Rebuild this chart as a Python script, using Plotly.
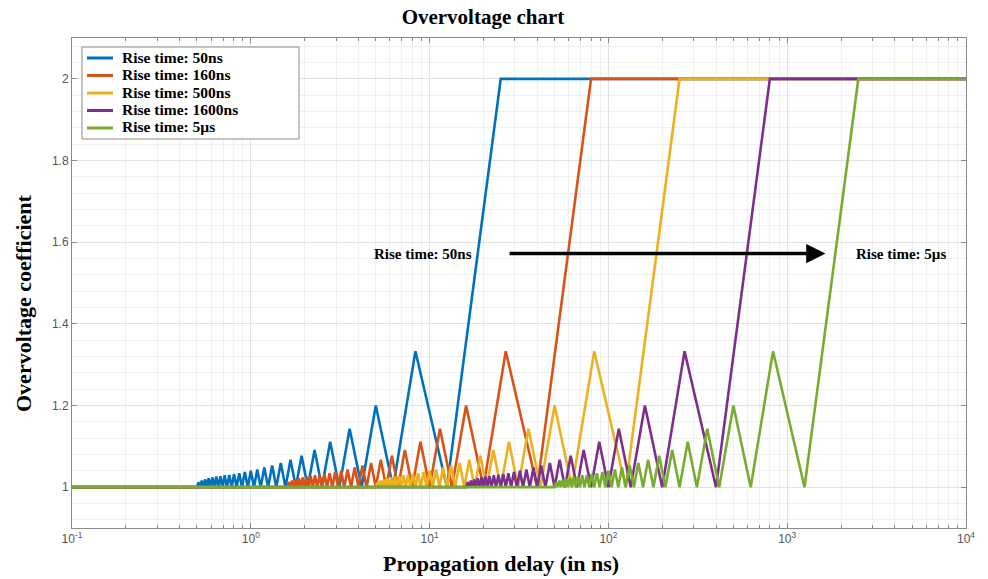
import plotly.graph_objects as go

# ---------------- data ----------------
series_names = ["Rise time: 50ns", "Rise time: 160ns", "Rise time: 500ns",
                "Rise time: 1600ns", "Rise time: 5µs"]
series_colors = ["#0072BD", "#D95319", "#EDB120", "#7E2F8E", "#77AC30"]

# shared vertex values of the saw-tooth (troughs at 1, peaks decreasing)
coef = [1.0, 1.0, 1.012, 1, 1.016, 1, 1.019, 1, 1.022, 1.0,
        1.024, 1, 1.026, 1, 1.027, 1, 1.029, 1, 1.030, 1, 1.032, 1, 1.034, 1,
        1.037, 1, 1.040, 1, 1.043, 1, 1.048, 1, 1.053, 1, 1.059, 1, 1.067, 1,
        1.077, 1, 1.091, 1, 1.111, 1, 1.143, 1, 1.2, 1, 1.333, 1, 2.0,
        2.0]

delay_50 = [0.1, 0.5, 0.510, 0.521, 0.532, 0.543, 0.556, 0.568, 0.581, 0.595,
            0.610, 0.625, 0.641, 0.658, 0.676, 0.694, 0.714, 0.735, 0.758, 0.781,
            0.806, 0.833, 0.862, 0.893, 0.926, 0.962, 1.0, 1.042, 1.087, 1.136,
            1.190, 1.25, 1.316, 1.389, 1.471, 1.563, 1.667, 1.786, 1.923, 2.083,
            2.273, 2.5, 2.778, 3.125, 3.571, 4.167, 5.0, 6.25, 8.333, 12.5, 25.0,
            10000]
delay_160 = [0.1, 1.6, 1.633, 1.667, 1.702, 1.739, 1.778, 1.818, 1.860, 1.905,
             1.951, 2.0, 2.051, 2.105, 2.162, 2.222, 2.286, 2.353, 2.424, 2.5,
             2.581, 2.667, 2.759, 2.857, 2.963, 3.077, 3.2, 3.333, 3.478, 3.636,
             3.810, 4.0, 4.211, 4.444, 4.706, 5.0, 5.333, 5.714, 6.154, 6.667,
             7.273, 8.0, 8.889, 10.0, 11.43, 13.33, 16.0, 20.0, 26.67, 40.0, 80.0,
             10000]
delay_500 = [0.1, 5.0, 5.10, 5.21, 5.32, 5.43, 5.56, 5.68, 5.81, 5.95,
             6.10, 6.25, 6.41, 6.58, 6.76, 6.94, 7.14, 7.35, 7.58, 7.81,
             8.06, 8.33, 8.62, 8.93, 9.26, 9.62, 10.0, 10.42, 10.87, 11.36,
             11.90, 12.5, 13.16, 13.89, 14.71, 15.63, 16.67, 17.86, 19.23, 20.83,
             22.73, 25.0, 27.78, 31.25, 35.71, 41.67, 50.0, 62.5, 83.33, 125.0, 250.0,
             10000]
delay_1600 = [0.1, 16.0, 16.33, 16.67, 17.02, 17.39, 17.78, 18.18, 18.60, 19.05,
              19.51, 20.0, 20.51, 21.05, 21.62, 22.22, 22.86, 23.53, 24.24, 25.0,
              25.81, 26.67, 27.59, 28.57, 29.63, 30.77, 32.0, 33.33, 34.78, 36.36,
              38.10, 40.0, 42.11, 44.44, 47.06, 50.0, 53.33, 57.14, 61.54, 66.67,
              72.73, 80.0, 88.89, 100.0, 114.3, 133.3, 160.0, 200.0, 266.7, 400.0, 800.0,
              10000]
delay_5000 = [0.1, 50.0, 51.0, 52.1, 53.2, 54.3, 55.6, 56.8, 58.1, 59.5,
              61.0, 62.5, 64.1, 65.8, 67.6, 69.4, 71.4, 73.5, 75.8, 78.1,
              80.6, 83.3, 86.2, 89.3, 92.6, 96.2, 100.0, 104.2, 108.7, 113.6,
              119.0, 125.0, 131.6, 138.9, 147.1, 156.3, 166.7, 178.6, 192.3, 208.3,
              227.3, 250.0, 277.8, 312.5, 357.1, 416.7, 500.0, 625.0, 833.3, 1250.0, 2500.0,
              10000]
delays = [delay_50, delay_160, delay_500, delay_1600, delay_5000]

x_tick_vals = [0.1, 1, 10, 100, 1000, 10000]
x_tick_text = ["10<sup>-1</sup>", "10<sup>0</sup>", "10<sup>1</sup>",
               "10<sup>2</sup>", "10<sup>3</sup>", "10<sup>4</sup>"]
y_tick_vals = [1, 1.2, 1.4, 1.6, 1.8, 2]
y_tick_text = ["1", "1.2", "1.4", "1.6", "1.8", "2"]

# ---------------- layout geometry (pixels in the figure) ----------------
W, H = 980, 571
PL, PR, PT, PB = 64, 958, 30, 520      # plot area edges


def px_x(px):
    return (px - PL) / (PR - PL)


def px_y(py):
    return (PB - py) / (PB - PT)


SERIF = "Liberation Serif, Times New Roman, serif"
SANS = "Liberation Sans, Arial, sans-serif"
AXC = "#8a8a8a"

fig = go.Figure()
for name, color, xs in zip(series_names, series_colors, delays):
    fig.add_trace(go.Scatter(x=xs, y=coef, mode="lines", name=name,
                             line=dict(color=color, width=2.6), showlegend=False))

minor_x = [m * 10 ** e for e in range(-1, 4) for m in range(2, 10)]

axis_common = dict(showline=True, mirror="allticks", linecolor=AXC,
                   linewidth=1, ticks="inside", ticklen=5, tickcolor=AXC,
                   tickfont=dict(family=SANS, size=12, color="#555555"),
                   showgrid=True, gridcolor="#e2e2e2", gridwidth=1, zeroline=False)

fig.update_xaxes(type="log", range=[-1, 4], tickmode="array",
                 tickvals=x_tick_vals, ticktext=x_tick_text,
                 minor=dict(tickmode="array", tickvals=minor_x, ticks="inside",
                            ticklen=3, tickcolor=AXC, showgrid=True,
                            gridcolor="#f0f0f0", gridwidth=1),
                 **axis_common)
fig.update_yaxes(range=[0.9, 2.1], tickmode="array",
                 tickvals=y_tick_vals, ticktext=y_tick_text,
                 minor=dict(dtick=0.04, tick0=1.0, ticks="", showgrid=True,
                            gridcolor="#f0f0f0", gridwidth=1),
                 **axis_common)

# annotation arrow (x in log10 units)
arrow_y = 1.572
arrow_x_start = 1.439
arrow_x_end = 3.214
fig.add_annotation(x=arrow_x_end, y=arrow_y, ax=arrow_x_start, ay=arrow_y,
                   xref="x", yref="y", axref="x", ayref="y", text="",
                   showarrow=True, arrowhead=2, arrowsize=1.1, arrowwidth=3.5,
                   arrowcolor="black")
fig.add_annotation(x=0.964, y=arrow_y, xref="x", yref="y", showarrow=False,
                   text="<b>Rise time: 50ns</b>",
                   font=dict(family=SERIF, size=15, color="black"),
                   xanchor="center", yanchor="middle")
fig.add_annotation(x=3.634, y=arrow_y, xref="x", yref="y", showarrow=False,
                   text="<b>Rise time: 5µs</b>",
                   font=dict(family=SERIF, size=15, color="black"),
                   xanchor="center", yanchor="middle")

# axis titles
fig.add_annotation(x=px_x(493), y=px_y(555), xref="paper", yref="paper",
                   showarrow=False, text="<b>Propagation delay (in ns)</b>",
                   font=dict(family=SERIF, size=22, color="black"),
                   xanchor="center", yanchor="middle")
fig.add_annotation(x=px_x(15), y=px_y(295), xref="paper", yref="paper",
                   showarrow=False, text="<b>Overvoltage coefficient</b>", textangle=-90,
                   font=dict(family=SERIF, size=22, color="black"),
                   xanchor="center", yanchor="middle")

# legend box (drawn in the upper-left corner like the reference)
shapes = [dict(type="rect", xref="paper", yref="paper",
               x0=px_x(74), x1=px_x(291), y0=px_y(39), y1=px_y(131),
               line=dict(color=AXC, width=1), fillcolor="white", layer="above")]
row_y = [49, 66.5, 84, 101.5, 119]
for name, color, ry in zip(series_names, series_colors, row_y):
    shapes.append(dict(type="line", xref="paper", yref="paper",
                       x0=px_x(79), x1=px_x(105), y0=px_y(ry + 1), y1=px_y(ry + 1),
                       line=dict(color=color, width=3), layer="above"))
    fig.add_annotation(x=px_x(112), y=px_y(ry), xref="paper", yref="paper",
                       showarrow=False, text="<b>" + name + "</b>",
                       font=dict(family=SERIF, size=15.5, color="black"),
                       xanchor="left", yanchor="middle")

fig.update_layout(
    width=W, height=H,
    margin=dict(l=PL, r=W - PR, t=PT, b=H - PB),
    paper_bgcolor="white", plot_bgcolor="white",
    showlegend=False,
    shapes=shapes,
    title=dict(text="<b>Overvoltage chart</b>", x=475 / W, y=1 - 9 / H,
               xref="container", yref="container", xanchor="center", yanchor="middle",
               font=dict(family=SERIF, size=21, color="black")),
)

fig.write_html("out.html")
